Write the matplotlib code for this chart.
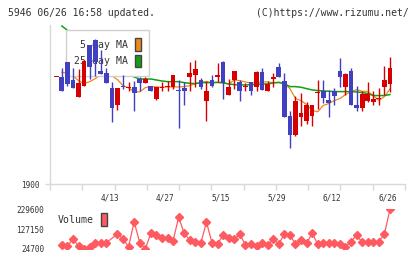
import numpy as np
import matplotlib
matplotlib.use("Agg")
import matplotlib.pyplot as plt
from matplotlib.patches import Patch

# daily candles (index 0..60)
opens = [2222, 2224, 2269, 2214, 2162, 2195, 2320, 2335, 2242, 2234,
         2191, 2138, 2197, 2191, 2194, 2217, 2204, 2196, 2158, 2191,
         2194, 2194, 2185, 2190, 2222, 2230, 2215, 2152, 2215, 2224,
         2269, 2168, 2215, 2209, 2193, 2209, 2192, 2239, 2182, 2218,
         2254, 2212, 2104, 2047, 2101, 2089, 2104, 2175, 2182, 2155,
         2182, 2242, 2192, 2242, 2137, 2128, 2152, 2149, 2157, 2194, 2203]
highs = [2223, 2251, 2269, 2251, 2247, 2275, 2320, 2338, 2305, 2249,
         2207, 2191, 2230, 2209, 2212, 2224, 2224, 2196, 2194, 2209,
         2212, 2230, 2214, 2207, 2267, 2275, 2221, 2210, 2230, 2266,
         2272, 2217, 2242, 2215, 2206, 2209, 2242, 2251, 2212, 2236,
         2266, 2236, 2120, 2167, 2176, 2149, 2137, 2215, 2215, 2185,
         2191, 2281, 2236, 2251, 2197, 2182, 2209, 2182, 2191, 2257, 2284]
lows = [2222, 2180, 2195, 2191, 2162, 2195, 2217, 2227, 2232, 2204,
        2087, 2122, 2187, 2182, 2120, 2182, 2204, 2182, 2155, 2180,
        2180, 2187, 2069, 2140, 2182, 2192, 2188, 2090, 2192, 2207,
        2158, 2168, 2188, 2150, 2182, 2168, 2182, 2185, 2182, 2194,
        2224, 2101, 2009, 2044, 2074, 2080, 2074, 2125, 2146, 2102,
        2140, 2192, 2170, 2137, 2119, 2119, 2149, 2140, 2137, 2170, 2179]
closes = [2223, 2180, 2202, 2191, 2206, 2272, 2254, 2267, 2232, 2204,
          2129, 2191, 2192, 2192, 2174, 2204, 2218, 2182, 2194, 2192,
          2195, 2230, 2180, 2182, 2234, 2248, 2192, 2180, 2197, 2230,
          2204, 2194, 2242, 2182, 2194, 2182, 2239, 2185, 2202, 2224,
          2224, 2101, 2047, 2152, 2113, 2140, 2137, 2176, 2161, 2146,
          2167, 2224, 2233, 2137, 2128, 2173, 2173, 2158, 2158, 2215, 2251]

# moving averages as drawn (index 1..60)
ma5 = [2237, 2235, 2227, 2212, 2203, 2209, 2218, 2230, 2233, 2227,
       2215, 2197, 2190, 2179, 2178, 2191, 2194, 2193, 2192, 2193,
       2193, 2193, 2194, 2197, 2203, 2208, 2209, 2206, 2206, 2205,
       2202, 2214, 2212, 2208, 2205, 2206, 2209, 2208, 2206, 2206,
       2203, 2188, 2158, 2152, 2140, 2122, 2118, 2137, 2143, 2152,
       2158, 2170, 2179, 2185, 2180, 2179, 2167, 2152, 2164, 2187]
ma25 = [2377, 2364, 2353, 2341, 2329, 2317, 2305, 2293, 2281, 2269,
        2257, 2245, 2233, 2223, 2217, 2217, 2217, 2214, 2211, 2209,
        2209, 2209, 2206, 2204, 2203, 2206, 2206, 2206, 2207, 2206,
        2202, 2200, 2199, 2199, 2200, 2200, 2202, 2202, 2205, 2207,
        2203, 2194, 2194, 2192, 2188, 2184, 2182, 2181, 2180, 2179,
        2179, 2179, 2179, 2178, 2176, 2173, 2167, 2167, 2167, 2170]

# volume (None = no point)
volume = [None, 43800, 40200, 76300, 40200, 26200, 36600, 54100, 54100, 57200,
          None, 102100, 76300, 36600, 165600, 57200, 24700, 105700, 97000, 79900,
          79900, 67500, 188300, 105700, 71100, 59300, 57200, 162500, 57200, 50500,
          97000, 79900, 74800, 102100, 45300, 50500, 40200, 57200, 43800, 74800,
          50500, 102100, 97000, 50500, 71100, 54100, 105700, 50500, 54100, 54100,
          57200, 49000, 36600, 62400, 97000, 59300, 62400, 59300, 62400, 102100, 229600]

date_pos = [10, 20, 30, 40, 50, 60]
date_labels = ["4/13", "4/27", "5/15", "5/29", "6/12", "6/26"]

RED = "#d70000"
BLUE = "#4040c0"
ORANGE = "#f0891a"
GREEN = "#12a012"
VOLC = "#ff5a5f"
GRAY = "#d8d8d8"
TXT = "#333333"
MONO = "DejaVu Sans Mono"

plt.rcParams["font.family"] = MONO

fig = plt.figure(figsize=(4.2, 2.59), dpi=100)
ax = fig.add_axes([50 / 420, 75 / 259, 355 / 420, 159 / 259])
axv = fig.add_axes([50 / 420, 10 / 259, 355 / 420, 39.7 / 259])

n = len(opens)
idx = np.arange(n)
o = np.array(opens, float)
c = np.array(closes, float)
up = c >= o
colors = np.where(up, RED, BLUE)
body_lo = np.minimum(o, c)
body_h = np.maximum(np.abs(c - o), 3)

ax.vlines(idx, lows, highs, colors=colors, linewidth=1.0, zorder=3)
ax.bar(idx, body_h, bottom=body_lo, width=0.85, color=colors, linewidth=0, zorder=3)

ma_idx = np.arange(1, n)
ax.plot(ma_idx, ma5, color=ORANGE, lw=0.9, zorder=1)
ax.plot(ma_idx, ma25, color=GREEN, lw=1.1, zorder=1)

ax.set_xlim(-1.13, 62.7)
ax.set_ylim(1900, 2380)
for s in ["top", "right"]:
    ax.spines[s].set_visible(False)
for s in ["left", "bottom"]:
    ax.spines[s].set_color(GRAY)
    ax.spines[s].set_linewidth(1)

ax.set_yticks([1900])
ax.set_yticklabels(["1900"])
ax.tick_params(axis="y", length=3.6, width=1, color=GRAY, pad=4, labelsize=5.6, labelcolor=TXT)
ax.set_xticks([p - 0.4 for p in date_pos])
ax.set_xticklabels(date_labels)
ax.tick_params(axis="x", which="major", length=0, pad=7, labelsize=5.6, labelcolor=TXT)
ax.set_xticks(np.linspace(-1.13, 62.7, 12), minor=True)
ax.tick_params(axis="x", which="minor", length=4.3, width=1, color=GRAY, direction="out")

handles = [Patch(facecolor=ORANGE, edgecolor="#444444", linewidth=1, label="5-day MA"),
           Patch(facecolor=GREEN, edgecolor="#444444", linewidth=1, label="25-day MA")]
leg = ax.legend(handles=handles, loc="upper left", bbox_to_anchor=(65.7 / 420, 1 - 30 / 259),
                bbox_transform=fig.transFigure, markerfirst=False, fancybox=False,
                framealpha=1, edgecolor="#d0d0d0", prop={"family": MONO, "size": 7.1},
                handlelength=0.6, handleheight=1.6, handletextpad=0.7, labelspacing=0.35,
                borderpad=0.85, borderaxespad=0)
leg.get_frame().set_linewidth(1)
for t in leg.get_texts():
    t.set_color(TXT)
leg.set_zorder(2)

# volume
vx = [i for i, v in enumerate(volume) if v is not None]
vy = [v for v in volume if v is not None]
axv.plot(vx, vy, color=VOLC, lw=0.9, marker="D", ms=4.0, mec=VOLC, mfc=VOLC, zorder=2)
axv.set_xlim(-1.13, 62.7)
axv.set_ylim(24700, 229600)
for s in axv.spines.values():
    s.set_visible(False)
axv.set_xticks([])
axv.set_yticks([24700, 127150, 229600])
axv.set_yticklabels(["24700", "127150", "229600"])
axv.tick_params(axis="y", length=0, pad=4.3, labelsize=5.6, labelcolor=TXT)
vleg = axv.legend(handles=[Patch(facecolor=VOLC, edgecolor="#444444", linewidth=1, label="Volume")],
                  loc="upper left", bbox_to_anchor=(58 / 420, 1 - 213 / 259),
                  bbox_transform=fig.transFigure, markerfirst=False, frameon=False,
                  prop={"family": MONO, "size": 7.1}, handlelength=0.6, handleheight=1.6,
                  handletextpad=0.7, borderpad=0, borderaxespad=0)
for t in vleg.get_texts():
    t.set_color(TXT)

fig.text(8 / 420, 1 - 13.3 / 259, "5946 06/26 16:58 updated.", fontsize=7.05,
         color=TXT, ha="left", va="center")
fig.text(409 / 420, 1 - 13.3 / 259, "(C)https://www.rizumu.net/", fontsize=7.05,
         color=TXT, ha="right", va="center")

fig.savefig("out.png", dpi=100)
